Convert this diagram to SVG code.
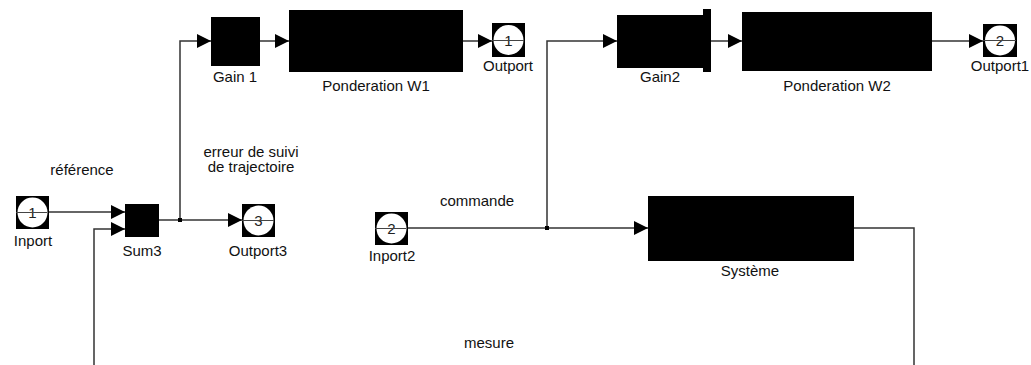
<svg xmlns="http://www.w3.org/2000/svg" width="1031" height="365" viewBox="0 0 1031 365">
<style>
.blk{fill:#000}
.pc{fill:#fff}
.pl{stroke:#444;stroke-width:1}
.ln{fill:none;stroke:#333;stroke-width:1.5}
.t{font-family:"Liberation Sans",Arial,sans-serif;font-size:15px;fill:#111;text-anchor:middle}
.n{font-family:"Liberation Sans",Arial,sans-serif;font-size:15px;fill:#222;text-anchor:middle}
</style>
<defs>
<marker id="ar" markerUnits="userSpaceOnUse" markerWidth="15" markerHeight="14" refX="14" refY="7" orient="auto">
<path d="M0,0 L14,7 L0,14 z" fill="#000"/>
</marker>
</defs>
<rect width="1031" height="365" fill="#fff"/>
<g id="connectors">
<path class="ln" d="M49 212 H125" marker-end="url(#ar)"/>
<path class="ln" d="M94 365 V229 H125" marker-end="url(#ar)"/>
<path class="ln" d="M159 220 H242" marker-end="url(#ar)"/>
<path class="ln" d="M180 220 V41 H211" marker-end="url(#ar)"/>
<rect x="178" y="218" width="4" height="4" fill="#000"/>
<path class="ln" d="M260 41 H289" marker-end="url(#ar)"/>
<path class="ln" d="M463 41 H492" marker-end="url(#ar)"/>
<path class="ln" d="M408 228 H648" marker-end="url(#ar)"/>
<path class="ln" d="M547 228 V41 H617" marker-end="url(#ar)"/>
<rect x="545" y="226" width="4" height="4" fill="#000"/>
<path class="ln" d="M711 41 H742" marker-end="url(#ar)"/>
<path class="ln" d="M932 41 H983" marker-end="url(#ar)"/>
<path class="ln" d="M854 228 H914 V365"/>
</g>
<g id="inport">
<rect class="blk" x="16" y="196" width="33" height="33"/>
<circle class="pc" cx="32.5" cy="212.5" r="15"/>
<text class="n" x="32.5" y="218">1</text>
<line class="pl" x1="16" y1="212.5" x2="47" y2="212.5"/>
<text class="t" x="33" y="246">Inport</text>
</g>
<g id="sum3">
<rect class="blk" x="125" y="204" width="34" height="33"/>
<text class="t" x="142" y="256">Sum3</text>
</g>
<g id="outport3">
<rect class="blk" x="242" y="204" width="33" height="33"/>
<circle class="pc" cx="258.5" cy="220.5" r="15"/>
<text class="n" x="258.5" y="226">3</text>
<line class="pl" x1="242" y1="220.5" x2="274" y2="220.5"/>
<text class="t" x="258" y="256">Outport3</text>
</g>
<g id="gain1">
<rect class="blk" x="211" y="17" width="49" height="49"/>
<text class="t" x="235" y="82">Gain 1</text>
</g>
<g id="ponderation-w1">
<rect class="blk" x="289" y="10" width="174" height="62"/>
<text class="t" x="376" y="91">Ponderation W1</text>
</g>
<g id="outport">
<rect class="blk" x="492" y="23" width="33" height="34"/>
<circle class="pc" cx="508.5" cy="40" r="15"/>
<text class="n" x="508.5" y="45.5">1</text>
<line class="pl" x1="492" y1="40.5" x2="524" y2="40.5"/>
<text class="t" x="508" y="71">Outport</text>
</g>
<g id="inport2">
<rect class="blk" x="375" y="212" width="33" height="33"/>
<circle class="pc" cx="391.5" cy="228.5" r="15"/>
<text class="n" x="391.5" y="234">2</text>
<line class="pl" x1="375" y1="228.5" x2="406" y2="228.5"/>
<text class="t" x="392" y="261">Inport2</text>
</g>
<g id="gain2">
<rect class="blk" x="617" y="15" width="87" height="53"/>
<rect class="blk" x="703" y="9" width="8" height="63"/>
<text class="t" x="660" y="82">Gain2</text>
</g>
<g id="ponderation-w2">
<rect class="blk" x="742" y="12" width="190" height="59"/>
<text class="t" x="837" y="91">Ponderation W2</text>
</g>
<g id="outport1">
<rect class="blk" x="983" y="24" width="34" height="33"/>
<circle class="pc" cx="1000" cy="40.5" r="15"/>
<text class="n" x="1000" y="46">2</text>
<line class="pl" x1="983" y1="40.5" x2="1016" y2="40.5"/>
<text class="t" x="1000" y="71">Outport1</text>
</g>
<g id="systeme">
<rect class="blk" x="648" y="196" width="206" height="65"/>
<text class="t" x="750" y="276">Système</text>
</g>
<g id="labels">
<text class="t" x="82" y="175">référence</text>
<text class="t" x="251" y="157">erreur de suivi</text>
<text class="t" x="251" y="172">de trajectoire</text>
<text class="t" x="477" y="206">commande</text>
<text class="t" x="489" y="348">mesure</text>
</g>
</svg>
